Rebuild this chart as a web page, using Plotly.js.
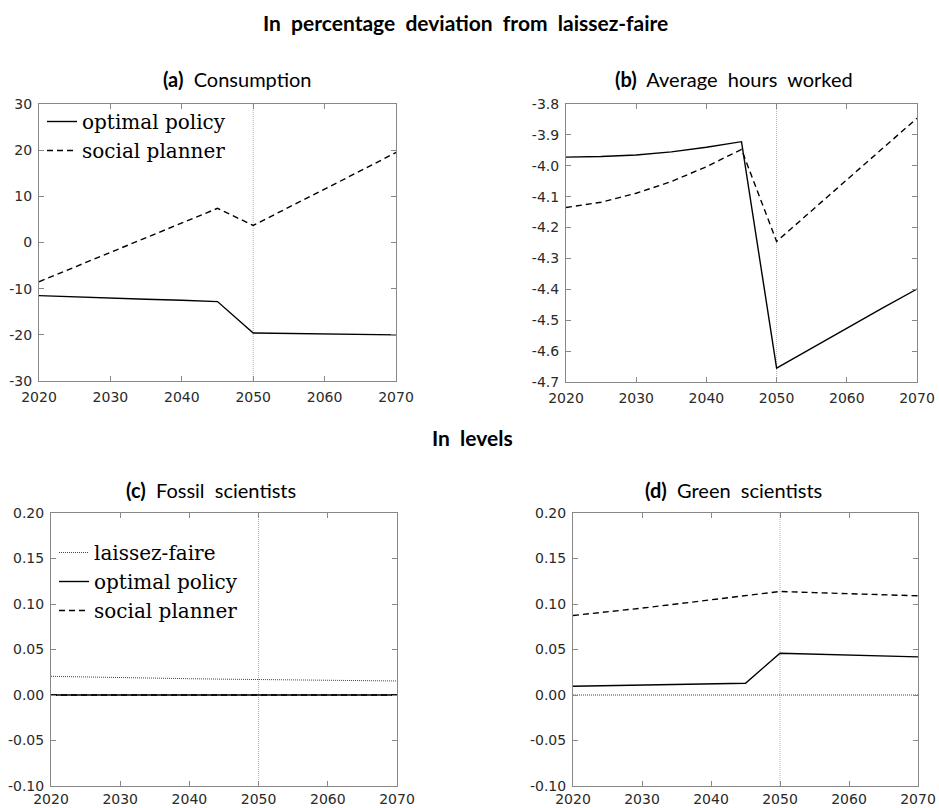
<!DOCTYPE html>
<html>
<head>
<meta charset="utf-8">
<script src="https://cdn.plot.ly/plotly-3.0.1.min.js"></script>
<style>html,body{margin:0;padding:0;background:#fff;}#chart{width:939px;height:808px;}</style>
</head>
<body>
<div id="chart"></div>
<script>
// ---- data ----
var years = [2020, 2025, 2030, 2035, 2040, 2045, 2050, 2055, 2060, 2065, 2070];
var consOpt = [-11.5, -11.8, -12.0, -12.3, -12.5, -12.8, -19.6, -19.7, -19.8, -19.9, -20.0];
var consSP = [-8.5, -5.3, -2.1, 1.0, 4.2, 7.4, 3.7, 7.6, 11.5, 15.5, 19.5];
var hoursOpt = [-3.972, -3.970, -3.965, -3.955, -3.940, -3.922, -4.655, -4.590, -4.525, -4.462, -4.399];
var hoursSP = [-4.135, -4.118, -4.089, -4.051, -4.003, -3.947, -4.245, -4.145, -4.045, -3.945, -3.846];
var fossilLF = [0.0205, 0.0197, 0.0190, 0.0184, 0.0179, 0.0174, 0.0170, 0.0166, 0.0162, 0.0158, 0.0154];
var fossilOpt = [0, 0, 0, 0, 0, 0, 0, 0, 0, 0, 0];
var fossilSP = [0, 0, 0, 0, 0, 0, 0, 0, 0, 0, 0];
var greenLF = [0, 0, 0, 0, 0, 0, 0, 0, 0, 0, 0];
var greenOpt = [0.0096, 0.0103, 0.0109, 0.0116, 0.0122, 0.0129, 0.0459, 0.0449, 0.0439, 0.0429, 0.0419];
var greenSP = [0.0874, 0.0912, 0.0955, 0.1000, 0.1046, 0.1090, 0.1138, 0.1125, 0.1112, 0.1100, 0.1090];

// ---- tick labels ----
var xTicks = [2020, 2030, 2040, 2050, 2060, 2070];
var consTicks = [-30, -20, -10, 0, 10, 20, 30];
var consTickText = ['-30', '-20', '-10', '0', '10', '20', '30'];
var hoursTicks = [-4.7, -4.6, -4.5, -4.4, -4.3, -4.2, -4.1, -4.0, -3.9, -3.8];
var hoursTickText = ['-4.7', '-4.6', '-4.5', '-4.4', '-4.3', '-4.2', '-4.1', '-4.0', '-3.9', '-3.8'];
var sciTicks = [-0.10, -0.05, 0, 0.05, 0.10, 0.15, 0.20];
var sciTickText = ['-0.10', '-0.05', '0.00', '0.05', '0.10', '0.15', '0.20'];
var policyYear = 2050;

var solid = {color: '#000', width: 1.4};
var dashed = {color: '#000', width: 1.4, dash: '6px,4px'};
var dotted = {color: '#444', width: 1, dash: '1px,1px'};

var traces = [
  {x: years, y: consOpt, xaxis: 'x', yaxis: 'y', mode: 'lines', line: solid, name: 'optimal policy', legend: 'legend'},
  {x: years, y: consSP, xaxis: 'x', yaxis: 'y', mode: 'lines', line: dashed, name: 'social planner', legend: 'legend'},
  {x: years, y: hoursOpt, xaxis: 'x2', yaxis: 'y2', mode: 'lines', line: solid, showlegend: false},
  {x: years, y: hoursSP, xaxis: 'x2', yaxis: 'y2', mode: 'lines', line: dashed, showlegend: false},
  {x: years, y: fossilLF, xaxis: 'x3', yaxis: 'y3', mode: 'lines', line: dotted, name: 'laissez-faire', legend: 'legend2', legendrank: 1},
  {x: years, y: fossilSP, xaxis: 'x3', yaxis: 'y3', mode: 'lines', line: dashed, name: 'social planner', legend: 'legend2', legendrank: 3},
  {x: years, y: fossilOpt, xaxis: 'x3', yaxis: 'y3', mode: 'lines', line: solid, name: 'optimal policy', legend: 'legend2', legendrank: 2},
  {x: years, y: greenLF, xaxis: 'x4', yaxis: 'y4', mode: 'lines', line: dotted, showlegend: false},
  {x: years, y: greenOpt, xaxis: 'x4', yaxis: 'y4', mode: 'lines', line: solid, showlegend: false},
  {x: years, y: greenSP, xaxis: 'x4', yaxis: 'y4', mode: 'lines', line: dashed, showlegend: false}
];

var W = 939, H = 808;
function dx(a, b) { return [a / W, b / W]; }
function dy(top, bot) { return [1 - bot / H, 1 - top / H]; }

var tickFont = {family: 'DejaVu Sans', size: 14, color: '#2a2a2a'};
function xax(dom, anchor, standoff) {
  return {domain: dom, anchor: anchor, range: [2020, 2070], tickmode: 'array', tickvals: xTicks, ticks: 'inside', ticklen: 5,
    tickcolor: '#888', showline: true, linecolor: '#888', linewidth: 1, mirror: 'ticks', showgrid: false,
    zeroline: false, tickfont: tickFont, fixedrange: true, ticklabelstandoff: standoff};
}
function yax(dom, anchor, range, vals, txt) {
  return {domain: dom, anchor: anchor, range: range, tickmode: 'array', tickvals: vals, ticktext: txt, ticks: 'inside', ticklen: 5,
    tickcolor: '#888', showline: true, linecolor: '#888', linewidth: 1, mirror: 'ticks', showgrid: false,
    zeroline: false, tickfont: tickFont, fixedrange: true, ticklabelstandoff: 3};
}

function ann(text, x, y, size) {
  return {text: text, x: x / W, y: 1 - y / H, xref: 'paper', yref: 'paper', showarrow: false,
    xanchor: 'center', yanchor: 'middle', font: {family: 'Lato', size: size || 20, color: '#000'}};
}

function vline(xr, yr) {
  return {type: 'line', xref: xr, yref: yr + ' domain', x0: policyYear, x1: policyYear, y0: 0, y1: 1,
    line: {color: '#b0b0b0', width: 1, dash: '1px,1px'}, layer: 'below'};
}

var legendFont = {family: 'DejaVu Serif', size: 20, color: '#000'};
var layout = {
  width: W, height: H,
  margin: {l: 0, r: 0, t: 0, b: 0},
  paper_bgcolor: '#fff', plot_bgcolor: '#fff',
  showlegend: true,
  xaxis: xax(dx(39, 396), 'y', 3),
  yaxis: yax(dy(104, 381), 'x', [-30, 30], consTicks, consTickText),
  xaxis2: xax(dx(566, 917), 'y2', 3),
  yaxis2: yax(dy(104, 382), 'x2', [-4.7, -3.8], hoursTicks, hoursTickText),
  xaxis3: xax(dx(51, 397), 'y3', 0),
  yaxis3: yax(dy(513, 786), 'x3', [-0.1, 0.2], sciTicks, sciTickText),
  xaxis4: xax(dx(573, 918), 'y4', 0),
  yaxis4: yax(dy(513, 786), 'x4', [-0.1, 0.2], sciTicks, sciTickText),
  legend: {x: 42 / W, y: 1 - 102 / H, xanchor: 'left', yanchor: 'top', bgcolor: 'rgba(0,0,0,0)', borderwidth: 0,
    font: legendFont, itemwidth: 30, tracegroupgap: 0, traceorder: 'normal'},
  legend2: {x: 54 / W, y: 1 - 533 / H, xanchor: 'left', yanchor: 'top', bgcolor: 'rgba(0,0,0,0)', borderwidth: 0,
    font: legendFont, itemwidth: 30, tracegroupgap: 0, traceorder: 'normal'},
  shapes: [vline('x', 'y'), vline('x2', 'y2'), vline('x3', 'y3'), vline('x4', 'y4')],
  annotations: [
    ann('<b>In  percentage  deviation  from  laissez-faire</b>', 465, 22, 21),
    ann('<b>(a)</b>  Consumption', 237, 79),
    ann('<b>(b)</b>  Average  hours  worked', 734, 79),
    ann('<b>In  levels</b>', 473, 437, 21),
    ann('<b>(c)</b>  Fossil  scientists', 211, 490),
    ann('<b>(d)</b>  Green  scientists', 733, 490)
  ]
};

Plotly.newPlot('chart', traces, layout, {displayModeBar: false, staticPlot: true});
</script>
</body>
</html>
